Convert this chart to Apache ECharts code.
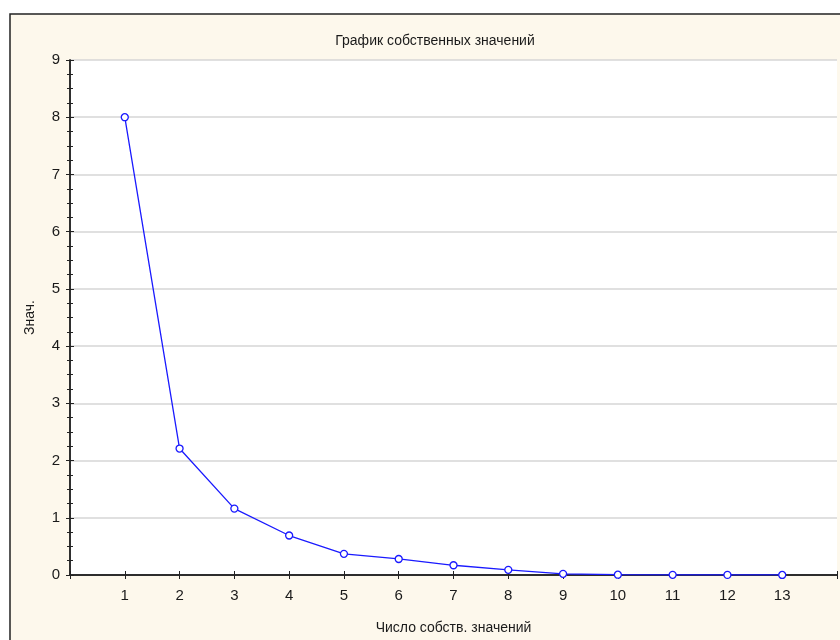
<!DOCTYPE html>
<html>
<head>
<meta charset="utf-8">
<script src="https://cdn.jsdelivr.net/npm/echarts@6/dist/echarts.min.js"></script>
<style>html,body{margin:0;padding:0;background:#fff;overflow:hidden}#c{width:840px;height:640px}</style>
</head>
<body>
<div id="c"></div>
<script>
const titleText = 'График собственных значений';
const xName = 'Число собств. значений';
const yName = 'Знач.';
const eigenNumbers = [1, 2, 3, 4, 5, 6, 7, 8, 9, 10, 11, 12, 13];
const eigenValues = [8.0, 2.21, 1.16, 0.69, 0.37, 0.28, 0.17, 0.09, 0.02, 0.005, 0.003, 0.002, 0.001];

const chart = echarts.init(document.getElementById('c'), null, {renderer: 'canvas'});
const font = 'Liberation Sans, Arial, sans-serif';
const axisLineStyle = {color: '#222', width: 1.5};
const option = {
  backgroundColor: '#ffffff',
  animation: false,
  title: {
    text: titleText, left: 430, top: 29, textAlign: 'center',
    textStyle: {fontFamily: font, fontSize: 14, fontWeight: 'normal', color: '#1a1a1a'}
  },
  graphic: [{
    type: 'rect', z: -10, silent: true,
    shape: {x: 10, y: 14, width: 900, height: 700},
    style: {fill: '#fdf8ec', stroke: '#222', lineWidth: 1.5}
  }],
  grid: {left: 70, top: 60, right: 2, bottom: 58, show: true, backgroundColor: '#ffffff', borderWidth: 0},
  xAxis: [{
    type: 'value', min: 0, max: 14, interval: 1, position: 'bottom',
    name: xName, nameLocation: 'middle', nameGap: 46,
    nameTextStyle: {fontFamily: font, fontSize: 14, color: '#1a1a1a'},
    axisLine: {show: true, lineStyle: axisLineStyle},
    axisTick: {show: true, inside: true, length: 4, lineStyle: {color: '#222'}},
    axisLabel: {margin: 13, fontFamily: font, fontSize: 15, color: '#1a1a1a',
      formatter: v => (v >= 1 && v <= 13) ? String(v) : ''},
    splitLine: {show: false}
  }, {
    type: 'value', min: 0, max: 14, interval: 1, position: 'top',
    axisLine: {show: true, lineStyle: axisLineStyle},
    axisTick: {show: true, inside: true, length: 4, lineStyle: {color: '#222'}},
    axisLabel: {show: false}, splitLine: {show: false}
  }],
  yAxis: [{
    type: 'value', min: 0, max: 9, interval: 1, position: 'left',
    name: yName, nameLocation: 'middle', nameGap: 33, nameRotate: 90,
    nameTextStyle: {fontFamily: font, fontSize: 14, color: '#1a1a1a'},
    axisLine: {show: true, lineStyle: axisLineStyle},
    axisTick: {show: true, inside: true, length: 4, lineStyle: {color: '#222'}},
    minorTick: {show: true, splitNumber: 4, length: 3, lineStyle: {color: '#222'}},
    axisLabel: {margin: 10, fontFamily: font, fontSize: 15, color: '#1a1a1a'},
    splitLine: {show: true, lineStyle: {color: '#d6d6d6', width: 1.5}}
  }, {
    type: 'value', min: 0, max: 9, interval: 1, position: 'right',
    axisLine: {show: true, lineStyle: axisLineStyle},
    axisTick: {show: true, inside: true, length: 4, lineStyle: {color: '#222'}},
    minorTick: {show: true, splitNumber: 4, length: 3, lineStyle: {color: '#222'}},
    axisLabel: {show: false}, splitLine: {show: false}
  }],
  series: [{
    type: 'line',
    data: eigenNumbers.map((n, i) => [n, eigenValues[i]]),
    symbol: 'circle', symbolSize: 7,
    lineStyle: {color: '#1a1aff', width: 1.3},
    itemStyle: {color: '#ffffff', borderColor: '#1a1aff', borderWidth: 1.3},
    z: 5
  }]
};
chart.setOption(option);
</script>
</body>
</html>
